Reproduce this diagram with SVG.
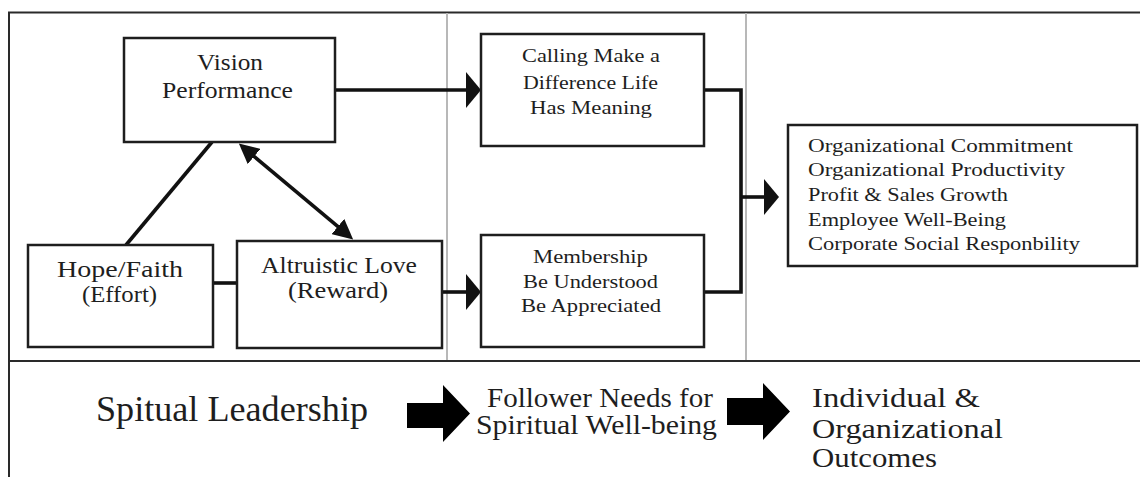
<svg xmlns="http://www.w3.org/2000/svg" width="1140" height="477" viewBox="0 0 1140 477">
<style>
.box{fill:#fff;stroke:#1e1e1e;stroke-width:2.5}
.frame{stroke:#2a2a2a;stroke-width:2;fill:none}
.div{stroke:#b8b8b8;stroke-width:2;fill:none}
.con{stroke:#111;stroke-width:3.6;fill:none}
.t{font-family:"Liberation Serif","Times New Roman",serif;fill:#1e1e1e}
.s21{font-size:23px}
.s17{font-size:18px}
.s26{font-size:27px}
.s33{font-size:35px}
.blk{fill:#000}
</style>
<defs>
<marker id="hH" markerUnits="userSpaceOnUse" viewBox="0 0 15 36" markerWidth="15" markerHeight="36" refX="1" refY="18" orient="auto">
<path d="M0,0 L15,18 L0,36 Z" fill="#111"/>
</marker>
<marker id="hS" markerUnits="userSpaceOnUse" viewBox="0 0 20 20" markerWidth="20" markerHeight="20" refX="1" refY="10" orient="auto-start-reverse">
<path d="M0,0 L20,10 L0,20 Z" fill="#111"/>
</marker>
</defs>
<rect width="1140" height="477" fill="#fff"/>
<g id="frame">
<path class="frame" d="M9,477 V12.5 H1140"/>
<path class="frame" d="M9,361 H1140"/>
<path class="div" d="M447,13 V360 M746,13 V360"/>
</g>
<g id="connectors">
<line class="con" x1="126" y1="245" x2="212" y2="142"/>
<line class="con" x1="253.4" y1="155.8" x2="338.6" y2="227.2" marker-start="url(#hS)" marker-end="url(#hS)"/>
<line class="con" x1="213" y1="283" x2="237" y2="283"/>
<line class="con" x1="335" y1="90" x2="467" y2="90" marker-end="url(#hH)"/>
<line class="con" x1="442" y1="292" x2="467" y2="292" marker-end="url(#hH)"/>
<path class="con" d="M704,90 H741 V292 H704"/>
<line class="con" x1="741" y1="197" x2="765" y2="197" marker-end="url(#hH)"/>
<path class="blk" d="M407,403 H443 V385 L470,413.5 L443,442 V428 H407 Z"/>
<path class="blk" d="M727,398 H763 V383 L790,411.5 L763,440 V425 H727 Z"/>
</g>
<g id="vision">
<rect class="box" x="124" y="38" width="211" height="104"/>
<text class="t s21" x="197" y="70" textLength="66" lengthAdjust="spacingAndGlyphs">Vision</text>
<text class="t s21" x="162" y="98" textLength="131" lengthAdjust="spacingAndGlyphs">Performance</text>
</g>
<g id="hope">
<rect class="box" x="28" y="245" width="185" height="102"/>
<text class="t s21" x="57" y="277" textLength="126" lengthAdjust="spacingAndGlyphs">Hope/Faith</text>
<text class="t s21" x="82" y="302" textLength="75" lengthAdjust="spacingAndGlyphs">(Effort)</text>
</g>
<g id="altruistic">
<rect class="box" x="237" y="241" width="205" height="107"/>
<text class="t s21" x="261" y="273" textLength="156" lengthAdjust="spacingAndGlyphs">Altruistic Love</text>
<text class="t s21" x="288" y="298" textLength="100" lengthAdjust="spacingAndGlyphs">(Reward)</text>
</g>
<g id="calling">
<rect class="box" x="481" y="34" width="223" height="112"/>
<text class="t s17" x="522" y="62" textLength="138" lengthAdjust="spacingAndGlyphs">Calling Make a</text>
<text class="t s17" x="523" y="89" textLength="135" lengthAdjust="spacingAndGlyphs">Difference Life</text>
<text class="t s17" x="530" y="114" textLength="122" lengthAdjust="spacingAndGlyphs">Has Meaning</text>
</g>
<g id="membership">
<rect class="box" x="481" y="235" width="223" height="112"/>
<text class="t s17" x="533" y="263" textLength="115" lengthAdjust="spacingAndGlyphs">Membership</text>
<text class="t s17" x="523" y="288" textLength="135" lengthAdjust="spacingAndGlyphs">Be Understood</text>
<text class="t s17" x="521" y="312" textLength="140" lengthAdjust="spacingAndGlyphs">Be Appreciated</text>
</g>
<g id="outcomes">
<rect class="box" x="788" y="125" width="349" height="141"/>
<text class="t s17" x="808" y="152" textLength="265" lengthAdjust="spacingAndGlyphs">Organizational Commitment</text>
<text class="t s17" x="808" y="176" textLength="257" lengthAdjust="spacingAndGlyphs">Organizational Productivity</text>
<text class="t s17" x="808" y="201" textLength="200" lengthAdjust="spacingAndGlyphs">Profit &amp; Sales Growth</text>
<text class="t s17" x="808" y="226" textLength="198" lengthAdjust="spacingAndGlyphs">Employee Well-Being</text>
<text class="t s17" x="808" y="250" textLength="272" lengthAdjust="spacingAndGlyphs">Corporate Social Responbility</text>
</g>
<g id="label-leadership">
<text class="t s33" x="96" y="421" textLength="272" lengthAdjust="spacingAndGlyphs">Spitual Leadership</text>
</g>
<g id="label-needs">
<text class="t s26" x="487" y="407" textLength="226" lengthAdjust="spacingAndGlyphs">Follower Needs for</text>
<text class="t s26" x="476" y="434" textLength="241" lengthAdjust="spacingAndGlyphs">Spiritual Well-being</text>
</g>
<g id="label-outcomes">
<text class="t s26" x="812" y="407" textLength="168" lengthAdjust="spacingAndGlyphs">Individual &amp;</text>
<text class="t s26" x="812" y="438" textLength="191" lengthAdjust="spacingAndGlyphs">Organizational</text>
<text class="t s26" x="812" y="467" textLength="125" lengthAdjust="spacingAndGlyphs">Outcomes</text>
</g>
</svg>
